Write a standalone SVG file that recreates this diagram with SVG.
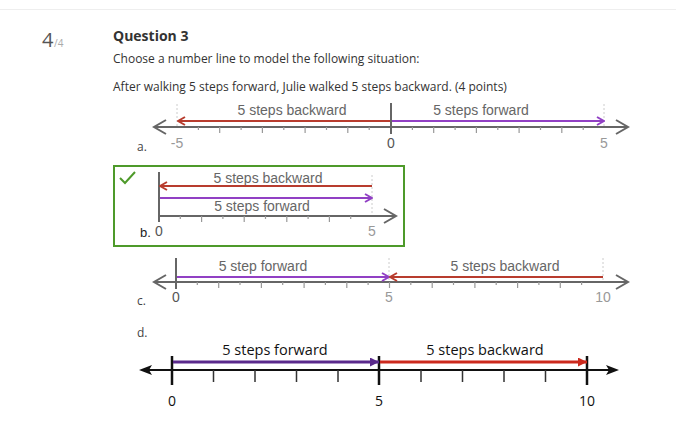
<svg xmlns="http://www.w3.org/2000/svg" width="676" height="428" viewBox="0 0 676 428">
<style>
.q{font-family:"Open Sans","Liberation Sans",sans-serif;fill:#333}
.lbl{font-family:"Liberation Sans",Arial,sans-serif;font-size:14px;fill:#666;text-anchor:middle}
.num{font-family:"Liberation Sans",Arial,sans-serif;font-size:14px;fill:#999;text-anchor:middle}
.num0{font-family:"Liberation Sans",Arial,sans-serif;font-size:14px;fill:#555;text-anchor:middle}
.opt{font-family:"Open Sans","Liberation Sans",sans-serif;font-size:12px;fill:#444}
.ax{stroke:#666;stroke-width:2;fill:none}
.tk{stroke:#999;stroke-width:1.2}
.dot{stroke:#ccc;stroke-width:1;stroke-dasharray:2,2}
.chev{stroke:#666;stroke-width:2;fill:none}
.red{stroke:#b83c2e;stroke-width:2;fill:none}
.pur{stroke:#9140c4;stroke-width:2;fill:none}
.dl{font-family:"Open Sans","Noto Sans",sans-serif;font-size:14.5px;fill:#111;text-anchor:middle}
.dn{font-family:"Open Sans","Noto Sans",sans-serif;font-size:14px;fill:#111;text-anchor:middle}
</style>
<defs>
<marker id="mr" viewBox="0 0 10 10" refX="9" refY="5" markerWidth="10" markerHeight="10" markerUnits="userSpaceOnUse" orient="auto">
<polyline points="2,1 9,5 2,9" fill="none" stroke="#b83c2e" stroke-width="2"/>
</marker>
<marker id="mp" viewBox="0 0 10 10" refX="9" refY="5" markerWidth="10" markerHeight="10" markerUnits="userSpaceOnUse" orient="auto">
<polyline points="2,1 9,5 2,9" fill="none" stroke="#9140c4" stroke-width="2"/>
</marker>
<marker id="dp" viewBox="0 0 10 10" refX="10" refY="5" markerWidth="10" markerHeight="9" markerUnits="userSpaceOnUse" orient="auto">
<polygon points="0,0 10,5 0,10" fill="#5a2a8c"/>
</marker>
<marker id="dr" viewBox="0 0 10 10" refX="10" refY="5" markerWidth="10" markerHeight="9" markerUnits="userSpaceOnUse" orient="auto">
<polygon points="0,0 10,5 0,10" fill="#cc2a1e"/>
</marker>
</defs>

<line x1="0" y1="9.5" x2="676" y2="9.5" stroke="#eee" stroke-width="1"/>

<g id="header">
<text x="42" y="47" font-family="Open Sans, Liberation Sans, sans-serif" font-size="20" fill="#555">4</text>
<text x="54" y="47" font-family="Open Sans, Liberation Sans, sans-serif" font-size="10" fill="#aaa">/4</text>
<text x="113" y="41" class="q" font-size="14" font-weight="bold">Question 3</text>
<text x="113" y="63" class="q" font-size="12">Choose a number line to model the following situation:</text>
<text x="113" y="91" class="q" font-size="12">After walking 5 steps forward, Julie walked 5 steps backward. (4 points)</text>
</g>

<g id="option-a">
<text x="137" y="151" class="opt">a.</text>
<line class="dot" x1="177" y1="104" x2="177" y2="127"/>
<line class="dot" x1="604" y1="104" x2="604" y2="127"/>
<line class="ax" x1="155" y1="127" x2="627" y2="127"/>
<polyline class="chev" points="166,120 154,127 166,134"/>
<polyline class="chev" points="616,120 628,127 616,134"/>
<path class="tk" d="M198.4,127v3M219.7,127v6M241.1,127v3M262.4,127v6M283.8,127v3M305.1,127v6M326.5,127v3M347.8,127v6M369.2,127v3M412.4,127v3M433.7,127v6M455.1,127v3M476.4,127v6M497.8,127v3M519.1,127v6M540.5,127v3M561.8,127v6M583.2,127v3"/>
<line x1="391" y1="103" x2="391" y2="134" stroke="#666" stroke-width="2"/>
<text x="292" y="115" class="lbl">5 steps backward</text>
<text x="481" y="115" class="lbl">5 steps forward</text>
<text x="177" y="148" class="num">-5</text>
<text x="391" y="148" class="num0">0</text>
<text x="604" y="148" class="num">5</text>
</g>

<g id="option-b">
<rect x="114" y="166" width="290" height="80" fill="none" stroke="#4e9a2a" stroke-width="2"/>
<polyline points="120,178 125,183 135,172" fill="none" stroke="#4e9a2a" stroke-width="2"/>
<line class="dot" x1="372" y1="175" x2="372" y2="216"/>
<line class="ax" x1="159" y1="216" x2="395" y2="216"/>
<polyline class="chev" points="384,209 396,216 384,223"/>
<path class="tk" d="M180.3,216v3M201.6,216v6M222.9,216v3M244.2,216v6M265.5,216v3M286.8,216v6M308.1,216v3M329.4,216v6M350.7,216v3"/>
<line x1="159" y1="172" x2="159" y2="222" stroke="#666" stroke-width="2"/>
<text x="268" y="183" class="lbl">5 steps backward</text>
<text x="262" y="211" class="lbl">5 steps forward</text>
<text x="140" y="237" font-family="Liberation Sans, Arial, sans-serif" font-size="13" fill="#222">b.</text>
<text x="159" y="236" class="num0" fill="#333">0</text>
<text x="372" y="236" class="num">5</text>
</g>

<g id="option-c">
<text x="137" y="305" class="opt">c.</text>
<line class="dot" x1="389" y1="258" x2="389" y2="282"/>
<line class="dot" x1="603" y1="258" x2="603" y2="282"/>
<line class="ax" x1="155" y1="282" x2="627" y2="282"/>
<polyline class="chev" points="166,275 154,282 166,289"/>
<polyline class="chev" points="616,275 628,282 616,289"/>
<path class="tk" d="M197.3,282v3M218.7,282v6M240,282v3M261.4,282v6M282.7,282v3M304.1,282v6M325.4,282v3M346.8,282v6M368.1,282v3M389.5,282v6M410.8,282v3M432.2,282v6M453.5,282v3M474.9,282v6M496.2,282v3M517.6,282v6M538.9,282v3M560.3,282v6M581.6,282v3"/>
<line x1="176" y1="258" x2="176" y2="289" stroke="#666" stroke-width="2"/>
<text x="263" y="271" class="lbl">5 step forward</text>
<text x="505" y="271" class="lbl">5 steps backward</text>
<text x="176" y="302" class="num0">0</text>
<text x="389" y="302" class="num">5</text>
<text x="603" y="302" class="num">10</text>
</g>

<g id="option-d">
<text x="137" y="337" class="opt">d.</text>
<line x1="146" y1="370" x2="612" y2="370" stroke="#111" stroke-width="2"/>
<polygon points="139,370 152,365 149,370 152,375" fill="#111"/>
<polygon points="619,370 606,365 609,370 606,375" fill="#111"/>
<path d="M213.5,370v12M255,370v12M296.5,370v12M338,370v12M421,370v12M462.5,370v12M504,370v12M545.5,370v12" stroke="#333" stroke-width="1.5"/>
<path d="M172,356v29M379,356v29M587,356v29" stroke="#111" stroke-width="2.5"/>
<text x="275" y="355" class="dl">5 steps forward</text>
<text x="485" y="355" class="dl">5 steps backward</text>
<text x="172" y="406" class="dn">0</text>
<text x="379" y="406" class="dn">5</text>
<text x="587" y="406" class="dn">10</text>
</g>

<g id="connectors">
<path class="red" d="M390,121H178" marker-end="url(#mr)"/>
<path class="pur" d="M392,121H604" marker-end="url(#mp)"/>
<path class="red" d="M372,186H160" marker-end="url(#mr)"/>
<path class="pur" d="M160,198H372" marker-end="url(#mp)"/>
<path class="pur" d="M177,277H389" marker-end="url(#mp)"/>
<path class="red" d="M603,277H390" marker-end="url(#mr)"/>
<path d="M173,362H379" stroke="#5a2a8c" stroke-width="3" fill="none" marker-end="url(#dp)"/>
<path d="M380,362H587" stroke="#cc2a1e" stroke-width="3" fill="none" marker-end="url(#dr)"/>
</g>
</svg>
